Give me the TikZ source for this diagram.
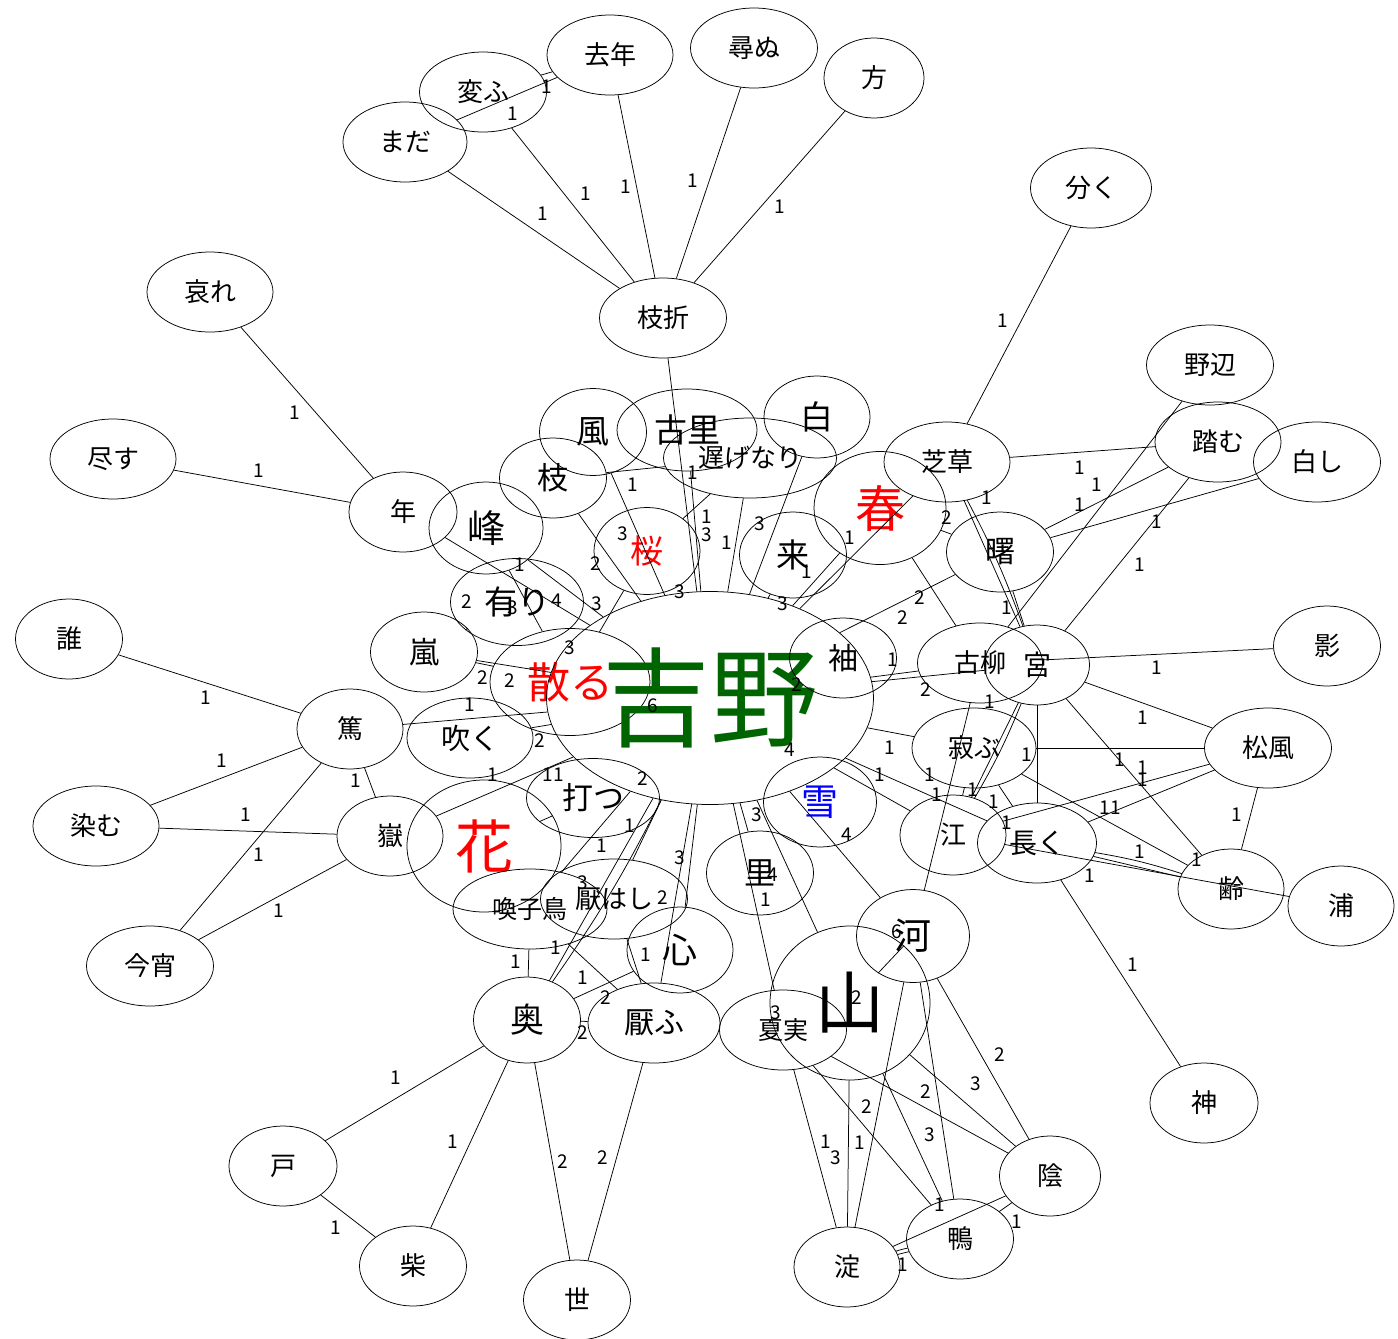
\documentclass[tikz,border=0pt]{standalone}
\usepackage{fontspec}
\setmainfont{Noto Sans CJK JP}
\usetikzlibrary{shapes.geometric}
\definecolor{dgreen}{RGB}{0,100,0}
\tikzset{
  nd/.style={ellipse, draw, line width=0.75pt, inner sep=0pt, font=\fontsize{26}{26}\selectfont},
  fs/.style={font=\fontsize{#1}{#1}\selectfont},
  ed/.style={line width=0.75pt},
  lb/.style={font=\fontsize{19}{19}\selectfont, inner sep=0pt}
}
\newcommand\gnode[6]{\node[nd,minimum width=#4pt,minimum height=#5pt,#6] (#1) at (#2) {#3};}
\begin{document}
\begin{tikzpicture}[x=1pt,y=-1pt]
\useasboundingbox (0,0) rectangle (1398,1339);
% nodes
\gnode{kyonen}{610,55}{去年}{126}{80}{}
\gnode{tazunu}{754,48}{尋ぬ}{127}{80}{}
\gnode{kata}{874,78}{方}{100}{80}{}
\gnode{kawafu}{483,92}{変ふ}{127}{80}{}
\gnode{mada}{405,142}{まだ}{124}{80}{}
\gnode{shiori}{663,318}{枝折}{127}{80}{}
\gnode{waku}{1091,188}{分く}{121}{80}{}
\gnode{nobe}{1210,365}{野辺}{127}{80}{}
\gnode{aware}{210,292}{哀れ}{126}{80}{}
\gnode{tsukusu}{113,459}{尽す}{126}{80}{}
\gnode{toshi}{403,512}{年}{108}{80}{}
\gnode{mine}{486,528}{峰}{114}{92}{fs=38}
\gnode{kaze}{593,432}{風}{107}{87}{fs=33}
\gnode{furusato}{687,430}{古里}{140}{82}{fs=33}
\gnode{osoge}{750,458}{遅げなり}{173}{80}{}
\gnode{shiro}{817,417}{白}{106}{82}{fs=33}
\gnode{eda}{553,478}{枝}{107}{80}{fs=31}
\gnode{sakura}{647,551}{\textcolor{red}{桜}}{106}{87}{fs=33}
\gnode{ku}{793,555}{来}{107}{86}{fs=33}
\gnode{haru}{880,508}{\textcolor{red}{春}}{132}{113}{fs=50}
\gnode{shiba}{947,462}{芝草}{126}{80}{}
\gnode{akebono}{1000,552}{曙}{107}{80}{fs=30}
\gnode{fumu}{1218,442}{踏む}{126}{80}{}
\gnode{shiroshi}{1317,462}{白し}{127}{80}{}
\gnode{ari}{517,602}{有り}{133}{87}{fs=33}
\gnode{arashi}{424,652}{嵐}{107}{80}{fs=30}
\gnode{chiru}{570,682}{\textcolor{red}{散る}}{160}{107}{fs=43}
\gnode{yoshino}{710,698}{\textcolor{dgreen}{吉野}}{327}{213}{fs=108}
\gnode{sode}{843,658}{袖}{107}{80}{fs=30}
\gnode{koyanagi}{980,663}{古柳}{125}{80}{}
\gnode{miya}{1037,665}{宮}{105}{80}{fs=28}
\gnode{kage}{1327,646}{影}{107}{80}{}
\gnode{tare}{69,639}{誰}{107}{80}{}
\gnode{atsushi}{350,729}{篤}{106}{80}{}
\gnode{fuku}{470,738}{吹く}{126}{80}{fs=29}
\gnode{matsukaze}{1268,748}{松風}{127}{80}{}
\gnode{sabu}{974,748}{寂ぶ}{124}{80}{}
\gnode{utsu}{593,798}{打つ}{133}{79}{fs=31}
\gnode{yuki}{820,802}{\textcolor{blue}{雪}}{113}{90}{fs=37}
\gnode{e}{953,835}{江}{106}{80}{}
\gnode{nagaku}{1037,843}{長く}{119}{80}{fs=28}
\gnode{somu}{96,826}{染む}{126}{80}{}
\gnode{take}{390,836}{嶽}{106}{80}{}
\gnode{hana}{484,846}{\textcolor{red}{花}}{154}{132}{fs=58}
\gnode{sato}{760,873}{里}{107}{84}{fs=31}
\gnode{yowai}{1231,889}{齢}{106}{80}{}
\gnode{ura}{1341,906}{浦}{106}{80}{}
\gnode{yobuko}{530,909}{喚子鳥}{154}{80}{fs=25}
\gnode{itowashi}{614,899}{厭はし}{147}{80}{}
\gnode{kokoro}{680,950}{心}{106}{86}{fs=35}
\gnode{kawa}{913,936}{河}{113}{93}{fs=37}
\gnode{yama}{850,1003}{山}{160}{154}{fs=69}
\gnode{koyoi}{150,966}{今宵}{127}{80}{}
\gnode{oku}{527,1020}{奥}{107}{86}{fs=34}
\gnode{itofu}{654,1023}{厭ふ}{132}{80}{fs=30}
\gnode{natsumi}{783,1030}{夏実}{127}{80}{fs=25}
\gnode{kami}{1204,1103}{神}{108}{80}{}
\gnode{to}{283,1166}{戸}{108}{80}{}
\gnode{kagee}{1050,1176}{陰}{101}{80}{}
\gnode{shibaa}{413,1266}{柴}{107}{80}{}
\gnode{kamo}{960,1239}{鴨}{107}{80}{}
\gnode{yodo}{847,1267}{淀}{106}{80}{}
\gnode{yo}{577,1300}{世}{107}{80}{}
% edges
\foreach \a/\b in {mada/shiori, kawafu/shiori, kyonen/shiori, tazunu/shiori, kata/shiori,
  mada/kyonen, kawafu/kyonen, shiori/yoshino, waku/shiba, aware/toshi, tsukusu/toshi,
  toshi/yoshino, mine/yoshino, mine/chiru, arashi/ari, arashi/yoshino, arashi/chiru,
  atsushi/yoshino, fuku/yoshino, sakura/chiru, kaze/yoshino, eda/yoshino, eda/osoge,
  furusato/yoshino, osoge/sakura, osoge/yoshino, shiro/yoshino, ku/yoshino, haru/yoshino,
  shiba/yoshino, haru/akebono, haru/koyanagi, yoshino/akebono, yoshino/koyanagi,
  yoshino/miya, yoshino/sabu, yoshino/e, yoshino/nagaku, shiba/fumu, shiba/miya,
  akebono/miya, akebono/fumu, akebono/shiroshi, nobe/koyanagi, fumu/miya, koyanagi/kage,
  miya/matsukaze, sabu/matsukaze, miya/nagaku, miya/yowai, matsukaze/e, matsukaze/nagaku,
  matsukaze/yowai, sabu/yowai, nagaku/yowai, e/ura, nagaku/kami, koyanagi/kawa, miya/e,
  sabu/e, sabu/nagaku, tare/atsushi, somu/atsushi, somu/take, atsushi/koyoi, take/koyoi,
  atsushi/take, take/yoshino, hana/utsu, yoshino/oku, yoshino/yobuko, yoshino/itowashi,
  yoshino/itofu, yoshino/kokoro, yoshino/sato, yoshino/natsumi, yoshino/yama, yoshino/kawa,
  kawa/yama, yama/yodo, kawa/yodo, natsumi/yodo, natsumi/kamo, natsumi/kagee, kawa/kagee,
  kawa/kamo, yama/kamo, yodo/kamo, kagee/kamo, kagee/yodo, yama/kagee, oku/to, oku/shibaa,
  to/shibaa, oku/yo, itofu/yo, yobuko/oku, yobuko/itofu, oku/kokoro, oku/itofu,
  itowashi/itofu}
  {\draw[ed] (\a) -- (\b);}
\foreach \a/\b in {shiba/miya, nagaku/yowai, miya/e, yoshino/oku, yodo/kamo}
  {\draw[ed] (\a) to[bend left=4] (\b);}
% labels
\foreach \x/\y/\t in {547/87/1, 513/114/1, 586/194/1, 626/187/1, 693/181/1, 780/207/1,
  543/214/1, 1003/321/1, 295/413/1, 259/471/1,
  633/485/1, 693/473/1, 707/517/1, 707/535/3, 727/543/1, 760/524/3, 623/534/3, 596/564/2,
  680/592/3, 783/604/3, 807/572/1, 850/538/1, 947/518/2, 987/498/1, 920/598/2, 903/618/2,
  520/565/1, 467/602/2, 557/601/4, 513/608/3, 597/604/3, 570/648/3, 483/678/2, 510/681/2,
  653/706/6, 470/705/1, 540/741/2, 797/685/2, 893/660/1, 926/690/2,
  1080/468/1, 1097/485/1, 1080/505/1, 1157/522/1, 1140/565/1, 1007/608/1, 1157/668/1,
  990/702/1, 1143/718/1, 1027/755/1, 890/748/1, 880/775/1, 930/775/1, 937/795/1,
  973/790/1, 994/802/1, 1007/823/1, 1120/760/1, 1143/768/1, 1143/780/1, 1110/808/11,
  1237/815/1, 1140/852/1, 1197/860/1, 1090/876/1, 1133/965/1,
  206/698/1, 222/761/1, 356/781/1, 246/815/1, 259/855/1, 279/911/1,
  493/775/1, 553/775/11, 643/779/2, 790/750/4, 630/826/1, 602/846/1, 757/815/3, 847/835/4,
  680/858/3, 583/883/3, 663/898/2, 773/875/4, 766/900/1, 897/932/6, 857/998/2, 776/1013/3,
  556/948/1, 516/962/1, 646/955/1, 583/978/1, 606/998/2, 583/1033/2,
  396/1078/1, 453/1142/1, 336/1228/1, 563/1162/2, 603/1158/2, 1000/1055/2, 976/1084/3,
  926/1092/2, 867/1107/2, 930/1135/3, 826/1142/1, 836/1158/3, 860/1143/1, 940/1205/1,
  1017/1222/1, 903/1265/1}
  {\node[lb] at (\x,\y) {\t};}
\end{tikzpicture}
\end{document}
